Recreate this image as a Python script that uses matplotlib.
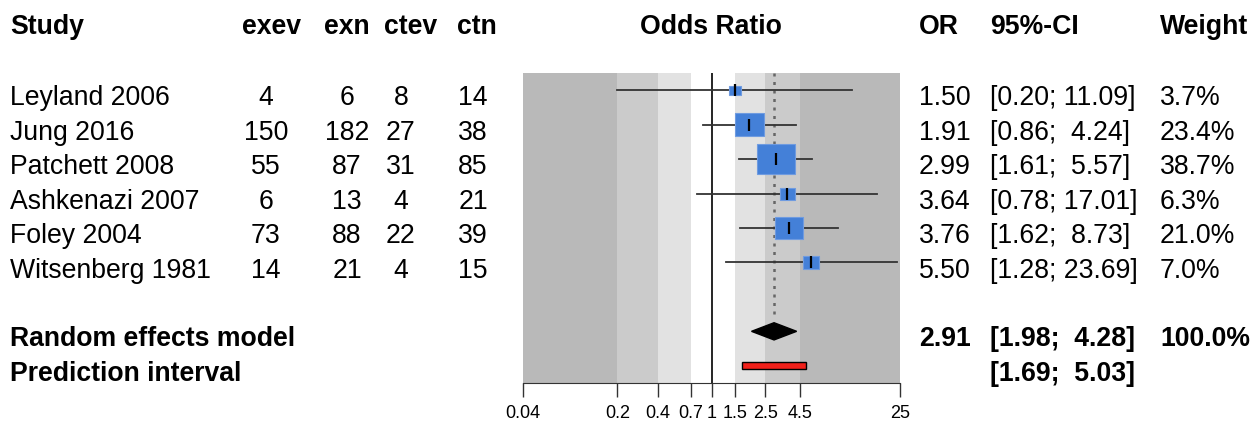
import numpy as np
import matplotlib
matplotlib.use("Agg")
import matplotlib.pyplot as plt
from matplotlib.patches import Rectangle, Polygon
from matplotlib.ticker import NullLocator
from matplotlib.transforms import blended_transform_factory

plt.rcParams['font.family'] = ['Liberation Sans', 'DejaVu Sans']

# data
studies = ["Leyland 2006", "Jung 2016", "Patchett 2008", "Ashkenazi 2007",
           "Foley 2004", "Witsenberg 1981"]
exev = [4, 150, 55, 6, 73, 14]
exn = [6, 182, 87, 13, 88, 21]
ctev = [8, 27, 31, 4, 22, 4]
ctn = [14, 38, 85, 21, 39, 15]
odds = [1.50, 1.91, 2.99, 3.64, 3.76, 5.50]
ci_lo = [0.20, 0.86, 1.61, 0.78, 1.62, 1.28]
ci_hi = [11.09, 4.24, 5.57, 17.01, 8.73, 23.69]
weights = [3.7, 23.4, 38.7, 6.3, 21.0, 7.0]

pooled = 2.91
pooled_lo, pooled_hi = 1.98, 4.28
pooled_weight = 100.0
pi_lo, pi_hi = 1.69, 5.03

ticks = [0.04, 0.2, 0.4, 0.7, 1, 1.5, 2.5, 4.5, 25]
band_edges = [0.04, 0.2, 0.4, 0.7, 1.5, 2.5, 4.5, 25]
band_colors = ['#b9b9b9', '#cbcbcb', '#e2e2e2', '#ffffff', '#e2e2e2', '#cbcbcb', '#b9b9b9']

W, H = 1259, 429
fig = plt.figure(figsize=(W / 100, H / 100), dpi=100)

tx = fig.add_axes([0, 0, 1, 1])
tx.set_xlim(0, W)
tx.set_ylim(H, 0)
tx.axis('off')

ax = fig.add_axes([523 / W, 1 - 383 / H, 377 / W, 310 / H])
ax.set_xscale('log')
ax.set_xlim(ticks[0], ticks[-1])
ax.set_ylim(9.5, 0.5)
ax.patch.set_alpha(0)

rows = np.arange(1, len(studies) + 1)
sum_row, pi_row = 8, 9

# background bands
for a, b, c in zip(band_edges[:-1], band_edges[1:], band_colors):
    ax.axvspan(a, b, color=c, lw=0, zorder=0)

# reference lines
ax.axvline(1, color='black', lw=1.2, zorder=2)
ax.vlines(pooled, 0.5, sum_row - 0.35, colors='#666666', linestyles=(0, (1.2, 2.2)), lw=1.8, zorder=2)

# studies
ln_per_px = np.log(ticks[-1] / ticks[0]) / 377
row_px = 310 / 9
for r, o, lo, hi, w in zip(rows, odds, ci_lo, ci_hi, weights):
    ax.plot([lo, hi], [r, r], color='#333333', lw=1.3, zorder=3)
    hw = 3.05 * np.sqrt(w) * ln_per_px
    hh = 4.8 * np.sqrt(w) / row_px
    left, right = o * np.exp(-hw), o * np.exp(hw)
    ax.add_patch(Rectangle((left, r - hh / 2), right - left, hh,
                           facecolor='#4480d8', edgecolor='#6f9be0', lw=0.8, zorder=4))
    ax.plot([o], [r], marker='|', ms=8, mew=1.6, color='black', zorder=5)

# pooled diamond and prediction interval
ax.add_patch(Polygon([(pooled_lo, sum_row), (pooled, sum_row - 0.25),
                      (pooled_hi, sum_row), (pooled, sum_row + 0.25)],
                     closed=True, facecolor='black', edgecolor='black', zorder=4))
ax.add_patch(Rectangle((pi_lo, pi_row - 0.1), pi_hi - pi_lo, 0.2,
                       facecolor='#f0201a', edgecolor='black', lw=1, zorder=4))

ax.set_xticks(ticks)
ax.set_xticklabels([f"{t:g}" for t in ticks])
ax.xaxis.set_minor_locator(NullLocator())
ax.set_yticks([])
for s in ['top', 'left', 'right']:
    ax.spines[s].set_visible(False)
ax.spines['bottom'].set_color('#333333')
ax.tick_params(axis='x', length=10, width=1, pad=6, labelsize=13, color='#333333')

# text columns
fs = 19.2
trans = blended_transform_factory(tx.transData, ax.transData)
off = 0.44
head_y = 34

tx.text(10, head_y, "Study", fontsize=fs, fontweight='bold', va='baseline')
for x, h in zip([272, 347, 411, 477], ["exev", "exn", "ctev", "ctn"]):
    tx.text(x, head_y, h, fontsize=fs, fontweight='bold', va='baseline', ha='center')
tx.text(711, head_y, "Odds Ratio", fontsize=fs, fontweight='bold', va='baseline', ha='center')
tx.text(919, head_y, "OR", fontsize=fs, fontweight='bold', va='baseline')
tx.text(990, head_y, "95%-CI", fontsize=fs, fontweight='bold', va='baseline')
tx.text(1160, head_y, "Weight", fontsize=fs, fontweight='bold', va='baseline')

for i, r in enumerate(rows):
    y = r + off
    tx.text(10, y, studies[i], fontsize=fs, va='baseline', transform=trans)
    for x, col in zip([266, 347, 401, 473], [exev, exn, ctev, ctn]):
        tx.text(x, y, str(col[i]), fontsize=fs, va='baseline', ha='center', transform=trans)
    tx.text(919, y, f"{odds[i]:.2f}", fontsize=fs, va='baseline', transform=trans)
    tx.text(990, y, f"[{ci_lo[i]:.2f}; {ci_hi[i]:5.2f}]", fontsize=fs, va='baseline', transform=trans)
    tx.text(1160, y, f"{weights[i]:.1f}%", fontsize=fs, va='baseline', transform=trans)

y = sum_row + off
tx.text(10, y, "Random effects model", fontsize=fs, fontweight='bold', va='baseline', transform=trans)
tx.text(919, y, f"{pooled:.2f}", fontsize=fs, fontweight='bold', va='baseline', transform=trans)
tx.text(990, y, f"[{pooled_lo:.2f}; {pooled_hi:5.2f}]", fontsize=fs, fontweight='bold',
        va='baseline', transform=trans)
tx.text(1160, y, f"{pooled_weight:.1f}%", fontsize=fs, fontweight='bold', va='baseline', transform=trans)

y = pi_row + off
tx.text(10, y, "Prediction interval", fontsize=fs, fontweight='bold', va='baseline', transform=trans)
tx.text(990, y, f"[{pi_lo:.2f}; {pi_hi:5.2f}]", fontsize=fs, fontweight='bold',
        va='baseline', transform=trans)

fig.savefig("out.png", dpi=100)
